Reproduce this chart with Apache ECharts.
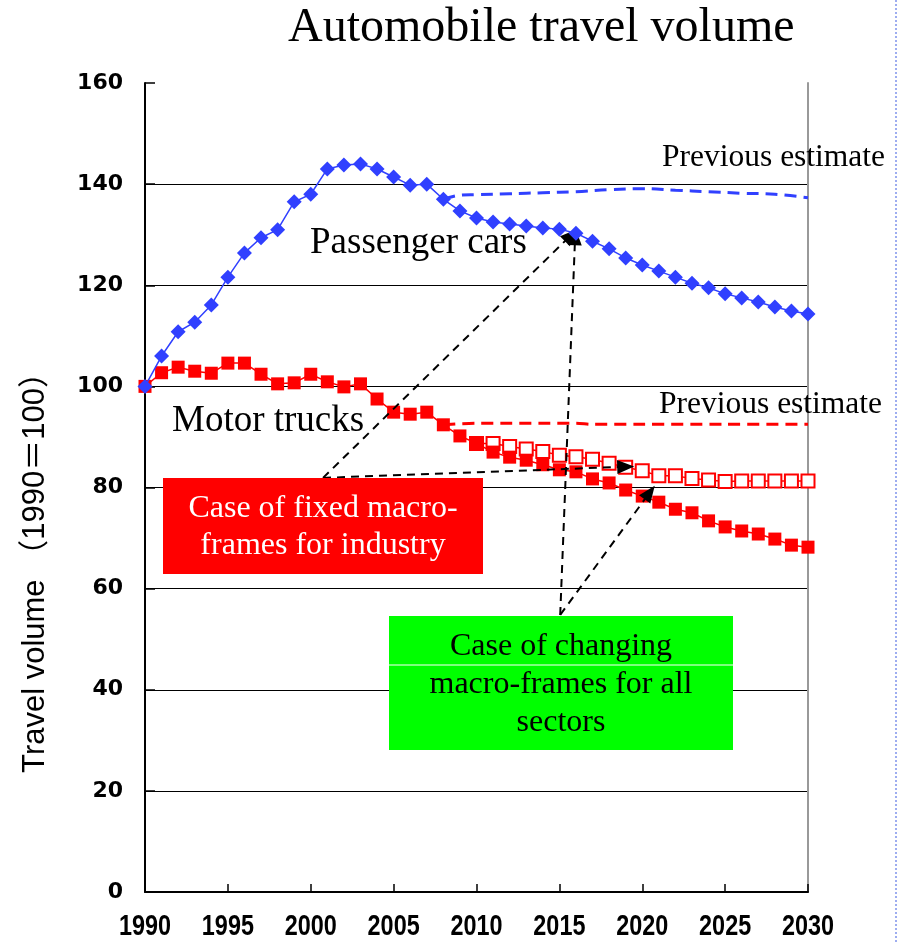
<!DOCTYPE html>
<html>
<head>
<meta charset="utf-8">
<script src="https://cdn.jsdelivr.net/npm/echarts@6/dist/echarts.min.js"></script>
<style>
  html, body { margin: 0; padding: 0; background: #fff; }
  #chart { width: 902px; height: 944px; }
</style>
</head>
<body>
<div id="chart"></div>
<script>
// Travel volume index, 1990 = 100
const years = [1990, 1991, 1992, 1993, 1994, 1995, 1996, 1997, 1998, 1999,
  2000, 2001, 2002, 2003, 2004, 2005, 2006, 2007, 2008, 2009,
  2010, 2011, 2012, 2013, 2014, 2015, 2016, 2017, 2018, 2019,
  2020, 2021, 2022, 2023, 2024, 2025, 2026, 2027, 2028, 2029, 2030];

const passengerCars = [100.0, 106.0, 110.8, 112.7, 116.1, 121.6, 126.4, 129.4, 131.0, 136.5,
  138.0, 143.0, 143.8, 144.0, 143.0, 141.4, 139.8, 140.0, 137.0, 134.7,
  133.3, 132.5, 132.1, 131.7, 131.3, 131.1, 130.3, 128.7, 127.2, 125.4,
  124.0, 122.8, 121.6, 120.4, 119.5, 118.3, 117.5, 116.7, 115.7, 114.9, 114.3];

// Case of changing macro-frames for all sectors
const motorTrucks = [100.0, 102.7, 103.8, 103.0, 102.6, 104.6, 104.6, 102.4, 100.5, 100.7,
  102.4, 100.9, 99.9, 100.5, 97.5, 94.9, 94.5, 94.9, 92.4, 90.2,
  88.7, 87.0, 86.0, 85.4, 84.5, 83.5, 83.1, 81.7, 80.9, 79.5,
  78.3, 77.1, 75.7, 75.0, 73.4, 72.2, 71.4, 70.8, 69.8, 68.6, 68.2];

// Case of fixed macro-frames for industry
const fixedIndustryYears = [2010, 2011, 2012, 2013, 2014, 2015, 2016, 2017, 2018, 2019,
  2020, 2021, 2022, 2023, 2024, 2025, 2026, 2027, 2028, 2029, 2030];
const motorTrucksFixedIndustry = [88.7, 88.7, 88.1, 87.6, 87.1, 86.4, 86.1, 85.6, 84.8, 84.0,
  83.3, 82.3, 82.3, 81.8, 81.5, 81.2, 81.3, 81.3, 81.3, 81.3, 81.3];

// Previous estimates
const carPrevYears = [2008, 2009, 2010, 2012, 2014, 2016, 2018, 2020, 2022, 2024, 2026, 2028, 2030];
const passengerCarsPrevious = [137.0, 137.8, 137.9, 138.1, 138.3, 138.5, 138.9, 139.1, 138.8, 138.5, 138.2, 138.0, 137.3];
const truckPrevYears = [2008, 2010, 2012, 2014, 2016, 2017, 2020, 2025, 2030];
const motorTrucksPrevious = [92.4, 92.7, 92.7, 92.7, 92.7, 92.5, 92.5, 92.5, 92.5];

const yTicks = [0, 20, 40, 60, 80, 100, 120, 140, 160];
const xTicks = [1990, 1995, 2000, 2005, 2010, 2015, 2020, 2025, 2030];

// Dashed pointer lines of the two case boxes, [year, index] from -> to
const pointers = [
  [[2000.74, 81.9], [2015.7, 129.9]],
  [[2000.74, 81.9], [2019.0, 84.1]],
  [[2015.05, 54.8], [2015.95, 129.6]],
  [[2015.05, 54.8], [2020.45, 79.0]]
];

const pairs = (xs, ys) => xs.map((x, i) => [x, ys[i]]);

const BLUE = '#3040ff';
const RED = '#ff0000';
const serif = '"Liberation Serif", "Times New Roman", serif';

const chart = echarts.init(document.getElementById('chart'), null, { renderer: 'canvas' });

chart.setOption({
  animation: false,
  backgroundColor: '#ffffff',
  grid: { left: 145, right: 94, top: 83, bottom: 52 },
  xAxis: {
    type: 'value',
    min: xTicks[0],
    max: xTicks[xTicks.length - 1],
    interval: 5,
    axisLine: { show: true, lineStyle: { color: '#000', width: 2 } },
    axisTick: { show: true, inside: true, length: 8, lineStyle: { color: '#000', width: 1.5 } },
    // year labels are drawn below as condensed text
    axisLabel: { show: false },
    splitLine: { show: false }
  },
  yAxis: [{
    type: 'value',
    min: yTicks[0],
    max: yTicks[yTicks.length - 1],
    interval: 20,
    axisLine: { show: true, lineStyle: { color: '#000', width: 2 } },
    axisTick: { show: true, inside: true, length: 10, lineStyle: { color: '#000', width: 1.5 } },
    axisLabel: {
      margin: 22,
      color: '#000',
      fontSize: 22,
      fontWeight: 'bold',
      fontFamily: '"DejaVu Sans", sans-serif'
    },
    splitLine: { show: true, showMinLine: false, showMaxLine: false, lineStyle: { color: '#000', width: 1.2 } }
  }, {
    type: 'value',
    position: 'right',
    min: yTicks[0],
    max: yTicks[yTicks.length - 1],
    interval: 20,
    axisLine: { show: true, lineStyle: { color: '#999', width: 2 } },
    axisTick: { show: false },
    axisLabel: { show: false },
    splitLine: { show: false }
  }],
  series: [
    {
      name: 'Passenger cars, previous estimate',
      type: 'line',
      data: pairs(carPrevYears, passengerCarsPrevious),
      smooth: 0.4,
      showSymbol: false,
      symbol: 'none',
      lineStyle: { color: BLUE, width: 3, type: [12, 7] },
      z: 2
    },
    {
      name: 'Motor trucks, previous estimate',
      type: 'line',
      data: pairs(truckPrevYears, motorTrucksPrevious),
      smooth: 0.3,
      showSymbol: false,
      symbol: 'none',
      lineStyle: { color: RED, width: 3, type: [12, 7] },
      z: 2
    },
    {
      name: 'Motor trucks, fixed macro-frames for industry',
      type: 'line',
      data: pairs(fixedIndustryYears, motorTrucksFixedIndustry),
      symbol: 'rect',
      symbolSize: 13,
      itemStyle: { color: '#ffffff', borderColor: RED, borderWidth: 2 },
      lineStyle: { color: RED, width: 1.5 },
      z: 3
    },
    {
      name: 'Motor trucks',
      type: 'line',
      data: pairs(years, motorTrucks),
      symbol: 'rect',
      symbolSize: 13,
      itemStyle: { color: RED },
      lineStyle: { color: RED, width: 1.5 },
      z: 4
    },
    {
      name: 'Passenger cars',
      type: 'line',
      data: pairs(years, passengerCars),
      symbol: 'diamond',
      symbolSize: 15,
      itemStyle: { color: BLUE },
      lineStyle: { color: BLUE, width: 1.5 },
      z: 5
    },
    {
      name: 'pointers',
      type: 'line',
      data: [],
      z: 6,
      markLine: {
        silent: true,
        animation: false,
        symbol: ['none', 'triangle'],
        symbolSize: [14, 17],
        label: { show: false },
        lineStyle: { color: '#000', width: 2, type: [8, 6] },
        emphasis: { disabled: true },
        data: pointers.map(p => [{ coord: p[0] }, { coord: p[1] }])
      }
    }
  ],
  graphic: [
    {
      type: 'text', x: 288, y: 28, z: 100,
      style: { text: 'Automobile travel volume', font: '48px ' + serif, fill: '#000', verticalAlign: 'middle' }
    },
    {
      type: 'text', x: 35, y: 565, rotation: Math.PI / 2, z: 100,
      style: {
        text: 'Travel volume （1990＝100）',
        font: '31px "Liberation Sans", Arial, "Noto Sans CJK JP", sans-serif',
        fill: '#000', align: 'center', verticalAlign: 'middle'
      }
    },
    {
      type: 'text', x: 662, y: 158, z: 100,
      style: { text: 'Previous estimate', font: '31.5px ' + serif, fill: '#000', verticalAlign: 'middle' }
    },
    {
      type: 'text', x: 659, y: 405, z: 100,
      style: { text: 'Previous estimate', font: '31.5px ' + serif, fill: '#000', verticalAlign: 'middle' }
    },
    {
      type: 'text', x: 310, y: 243, z: 100,
      style: { text: 'Passenger cars', font: '37px ' + serif, fill: '#000', verticalAlign: 'middle' }
    },
    {
      type: 'text', x: 172, y: 421, z: 100,
      style: { text: 'Motor trucks', font: '37px ' + serif, fill: '#000', verticalAlign: 'middle' }
    },
    {
      type: 'rect', z: 100,
      shape: { x: 163, y: 478, width: 320, height: 96 },
      style: { fill: RED }
    },
    {
      type: 'text', x: 323, y: 527, z: 101,
      style: {
        text: 'Case of fixed macro-\nframes for industry',
        font: '32px ' + serif, lineHeight: 37,
        fill: '#ffffff', align: 'center', verticalAlign: 'middle'
      }
    },
    {
      type: 'rect', z: 100,
      shape: { x: 389, y: 616, width: 344, height: 134 },
      style: { fill: '#00ff00' }
    },
    {
      type: 'line', z: 101,
      shape: { x1: 389, y1: 665, x2: 733, y2: 665 },
      style: { stroke: '#ffffff', lineWidth: 1 }
    },
    {
      type: 'text', x: 561, y: 685, z: 102,
      style: {
        text: 'Case of changing\nmacro-frames for all\nsectors',
        font: '32px ' + serif, lineHeight: 38,
        fill: '#000', align: 'center', verticalAlign: 'middle'
      }
    },
    {
      type: 'line', z: 100,
      shape: { x1: 896, y1: 0, x2: 896, y2: 944 },
      style: { stroke: '#9eadf0', lineWidth: 2, lineDash: [2, 2] }
    }
  ]
});

// Condensed bold year labels placed at the axis tick positions
const axisBottom = chart.convertToPixel({ yAxisIndex: 0 }, yTicks[0]);
chart.setOption({
  graphic: xTicks.map((yr, i) => ({
    id: 'year-' + i,
    type: 'text',
    x: chart.convertToPixel({ xAxisIndex: 0 }, yr),
    y: axisBottom + 35,
    scaleX: 0.78,
    z: 100,
    style: {
      text: String(yr),
      font: 'bold 30px "Liberation Sans", Arial, sans-serif',
      fill: '#000', align: 'center', verticalAlign: 'middle'
    }
  }))
});
</script>
</body>
</html>
